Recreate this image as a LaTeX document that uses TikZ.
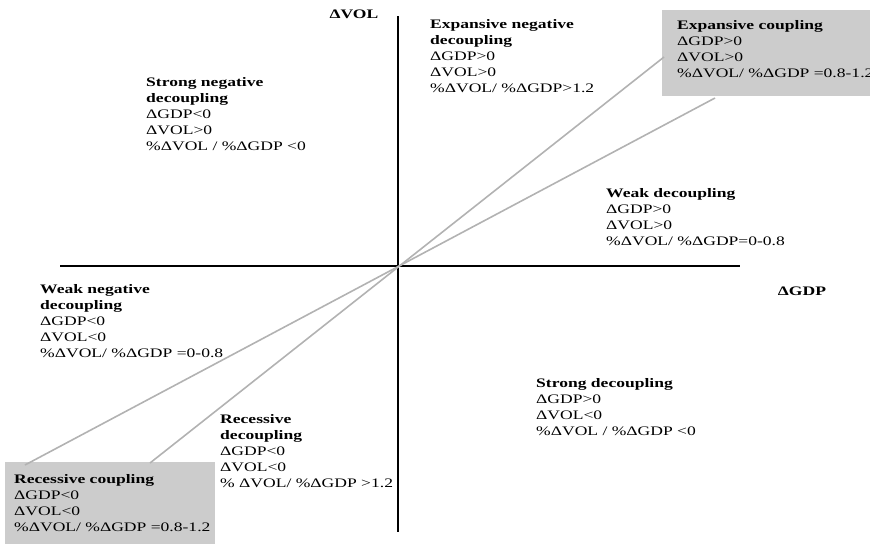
\documentclass[tikz,border=0pt]{standalone}
\usepackage{fontspec}
\setmainfont{Liberation Serif}[FakeStretch=1.35]
\newfontfamily\wideboldfont{Liberation Serif Bold}[FakeStretch=1.35]
\newcommand{\ttl}[1]{{\wideboldfont #1}}
\begin{document}
\begin{tikzpicture}[x=1pt,y=-1pt,
  txt/.style={anchor=north west,inner sep=0pt,align=left,font=\fontsize{13}{16}\selectfont},
  axis/.style={line width=2.2pt,black},
  diag/.style={line width=1.6pt,color=gray!60},
  graybox/.style={fill=black!20,draw=none}]
\useasboundingbox (0,0) rectangle (870,544);
% gray boxes
\fill[graybox] (662,10) rectangle (870,96);
\fill[graybox] (5,462) rectangle (215,544);
% axes
\coordinate (O) at (398,266);
\coordinate (ytop) at (398,16);
\coordinate (ybot) at (398,532);
\coordinate (xl) at (60,266);
\coordinate (xr) at (740,266);
\draw[axis] (ytop) -- (ybot);
\draw[axis] (xl) -- (xr);
% diagonals
\coordinate (s1) at (664,57);
\coordinate (s2) at (150,463);
\coordinate (f1) at (715,98);
\coordinate (f2) at (25,465);
\draw[diag] (s2) -- (s1);
\draw[diag] (f2) -- (f1);
% axis labels
\node[txt,anchor=center] (yl) at (354,14) {\ttl{ΔVOL}};
\node[txt,anchor=center] (xlab) at (802,291) {\ttl{ΔGDP}};
% quadrant texts
\node[txt] (end) at (430,19) {\ttl{Expansive negative}\\\ttl{decoupling}\\ΔGDP>0\\ΔVOL>0\\\%ΔVOL/ \%ΔGDP>1.2};
\node[txt] (ec) at (677,20) {\ttl{Expansive coupling}\\ΔGDP>0\\ΔVOL>0\\\%ΔVOL/ \%ΔGDP =0.8-1.2};
\node[txt] (snd) at (146,77) {\ttl{Strong negative}\\\ttl{decoupling}\\ΔGDP<0\\ΔVOL>0\\\%ΔVOL / \%ΔGDP <0};
\node[txt] (wd) at (606,188) {\ttl{Weak decoupling}\\ΔGDP>0\\ΔVOL>0\\\%ΔVOL/ \%ΔGDP=0-0.8};
\node[txt] (wnd) at (40,284) {\ttl{Weak negative}\\\ttl{decoupling}\\ΔGDP<0\\ΔVOL<0\\\%ΔVOL/ \%ΔGDP =0-0.8};
\node[txt] (sd) at (536,378) {\ttl{Strong decoupling}\\ΔGDP>0\\ΔVOL<0\\\%ΔVOL / \%ΔGDP <0};
\node[txt] (rd) at (220,414) {\ttl{Recessive}\\\ttl{decoupling}\\ΔGDP<0\\ΔVOL<0\\\% ΔVOL/ \%ΔGDP >1.2};
\node[txt] (rc) at (14,474) {\ttl{Recessive coupling}\\ΔGDP<0\\ΔVOL<0\\\%ΔVOL/ \%ΔGDP =0.8-1.2};
\end{tikzpicture}
\end{document}
